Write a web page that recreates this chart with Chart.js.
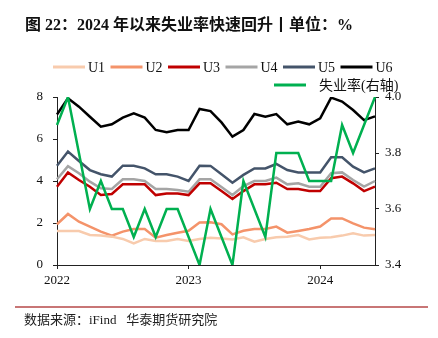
<!DOCTYPE html>
<html>
<head>
<meta charset="utf-8">
<script src="https://cdn.jsdelivr.net/npm/chart.js@4/dist/chart.umd.min.js"></script>
<style>
    html, body {
        margin: 0;
        padding: 0;
        background: #fff;
    }
    #wrap {
        position: relative;
        width: 438px;
        height: 338px;
        overflow: hidden;
    }
    #myChart {
        position: absolute;
        left: 0;
        top: 0;
    }
    .title {
        position: absolute;
        left: 25px;
        top: 11px;
        font: bold 16px "Liberation Serif", "Noto Sans CJK SC", serif;
        color: #111;
        white-space: nowrap;
    }
    .rule {
        position: absolute;
        left: 15px;
        top: 306px;
        width: 413px;
        height: 2px;
        background: #c87676;
    }
    .source {
        position: absolute;
        left: 24px;
        top: 309px;
        font: 13px "Liberation Serif", "Noto Sans CJK SC", serif;
        color: #222;
        white-space: pre;
    }
</style>
</head>
<body>
<div id="wrap">
    <canvas id="myChart" width="438" height="338"></canvas>
    <div class="title">图 22：2024 年以来失业率快速回升丨单位：%</div>
    <div class="rule"></div>
    <div class="source">数据来源：iFind   华泰期货研究院</div>
</div>
<script>
// monthly points, year label shown on each January
let labels = [];
for (let y = 2022; y <= 2024; y++) {
    for (let m = 1; m <= 12; m++) {
        if (labels.length < 30) labels.push(y + "-" + String(m).padStart(2, "0"));
    }
}

const u1 = [1.62, 1.62, 1.62, 1.43, 1.40, 1.35, 1.24, 1.03, 1.24, 1.14, 1.14, 1.24, 1.14, 1.24, 1.30,
            1.26, 1.22, 1.32, 1.11, 1.24, 1.32, 1.35, 1.43, 1.22, 1.30, 1.32, 1.40, 1.51, 1.40, 1.43];
const u2 = [1.94, 2.43, 2.06, 1.83, 1.59, 1.40, 1.59, 1.71, 1.71, 1.30, 1.43, 1.54, 1.63, 2.02, 2.04,
            1.94, 1.46, 1.63, 1.71, 1.71, 1.83, 1.54, 1.62, 1.71, 1.83, 2.22, 2.22, 1.98, 1.78, 1.70];
const u3 = [3.73, 4.41, 4.05, 3.73, 3.33, 3.38, 3.84, 3.84, 3.84, 3.33, 3.41, 3.41, 3.33, 3.89, 3.89,
            3.52, 3.14, 3.52, 3.84, 3.84, 3.92, 3.62, 3.62, 3.52, 3.52, 4.13, 4.21, 3.89, 3.52, 3.73];
const u4 = [4.08, 4.71, 4.37, 3.97, 3.65, 3.62, 4.08, 4.08, 4.00, 3.62, 3.62, 3.57, 3.49, 4.08, 4.08,
            3.71, 3.33, 3.76, 4.00, 4.00, 4.16, 3.84, 3.89, 3.73, 3.73, 4.37, 4.41, 4.05, 3.73, 4.00];
const u5 = [4.73, 5.40, 4.95, 4.52, 4.32, 4.21, 4.73, 4.73, 4.60, 4.32, 4.32, 4.21, 4.00, 4.73, 4.72,
            4.32, 3.92, 4.29, 4.60, 4.60, 4.81, 4.52, 4.41, 4.41, 4.41, 5.13, 5.13, 4.68, 4.41, 4.60];
const u6 = [7.17, 7.94, 7.54, 7.06, 6.59, 6.70, 7.02, 7.22, 7.02, 6.43, 6.32, 6.43, 6.43, 7.43, 7.33,
            6.79, 6.11, 6.43, 7.19, 7.06, 7.19, 6.70, 6.83, 6.70, 6.98, 7.97, 7.78, 7.38, 6.90, 7.08];
const unemp = [3.9, 4.0, 3.8, 3.6, 3.7, 3.6, 3.6, 3.5, 3.6, 3.5, 3.6, 3.6, 3.5, 3.4, 3.6,
               3.5, 3.4, 3.7, 3.6, 3.5, 3.8, 3.8, 3.8, 3.7, 3.7, 3.7, 3.9, 3.8, 3.9, 4.0];

const serif = "'Liberation Serif', 'Noto Sans CJK SC', serif";

const line = (label, values, color, axis, order) => ({
    label: label,
    data: values,
    borderColor: color,
    backgroundColor: color,
    borderWidth: 2.5,
    pointRadius: 0,
    tension: 0,
    yAxisID: axis,
    order: order
});

let data = {
    labels: labels,
    datasets: [
        line('U1', u1, '#f8cbad', 'y', 1),
        line('U2', u2, '#f4936a', 'y', 1),
        line('U3', u3, '#c00000', 'y', 1),
        line('U4', u4, '#a5a5a5', 'y', 1),
        line('U5', u5, '#44546a', 'y', 1),
        line('U6', u6, '#000000', 'y', 1),
        line('失业率(右轴)', unemp, '#00b050', 'y1', 0)
    ]
};

// legend: six U series on the first row, the right-axis series under it
const legendRows = [
    { x: 53, y: 67, step: 57.5, items: [0, 1, 2, 3, 4, 5] },
    { x: 274, y: 85, step: 0, items: [6] }
];

const legendPlugin = {
    id: 'legendRows',
    afterDraw(chart) {
        const ctx = chart.ctx;
        ctx.save();
        ctx.font = "14px " + serif;
        ctx.textBaseline = 'middle';
        legendRows.forEach(row => {
            row.items.forEach((idx, k) => {
                const ds = chart.data.datasets[idx];
                const x = row.x + k * row.step;
                ctx.strokeStyle = ds.borderColor;
                ctx.lineWidth = 3;
                ctx.beginPath();
                ctx.moveTo(x, row.y);
                ctx.lineTo(x + 32, row.y);
                ctx.stroke();
                ctx.fillStyle = '#111';
                ctx.fillText(ds.label, x + (idx == 6 ? 45 : 35), row.y + 1);
            });
        });
        ctx.restore();
    }
};

const axisColor = '#222';

const config = {
    type: 'line',
    data: data,
    plugins: [legendPlugin],
    options: {
        responsive: false,
        animation: false,
        layout: {
            padding: { top: 97, left: 0, right: 0, bottom: 0 }
        },
        plugins: {
            legend: { display: false },
            tooltip: { enabled: false }
        },
        scales: {
            x: {
                offset: false,
                border: { color: axisColor, width: 1 },
                grid: {
                    drawOnChartArea: false,
                    color: axisColor,
                    tickLength: 4
                },
                ticks: {
                    autoSkip: false,
                    maxRotation: 0,
                    padding: 4,
                    color: '#111',
                    font: { family: serif, size: 13 },
                    callback: function (value, index) {
                        let lab = this.getLabelForValue(value);
                        return lab.endsWith('-01') ? lab.slice(0, 4) : null;
                    }
                },
                afterFit: scale => { scale.height = 73; }
            },
            y: {
                position: 'left',
                min: 0,
                max: 8,
                border: { color: axisColor, width: 1 },
                grid: {
                    drawOnChartArea: false,
                    color: axisColor,
                    tickLength: 4
                },
                ticks: {
                    stepSize: 2,
                    padding: 10,
                    color: '#111',
                    font: { family: serif, size: 13 }
                },
                afterFit: scale => { scale.width = 57; }
            },
            y1: {
                position: 'right',
                min: 3.4,
                max: 4.0,
                border: { color: axisColor, width: 1 },
                grid: {
                    drawOnChartArea: false,
                    color: axisColor,
                    tickLength: 4
                },
                ticks: {
                    stepSize: 0.2,
                    padding: 6,
                    color: '#111',
                    font: { family: serif, size: 13 },
                    callback: v => v.toFixed(1)
                },
                afterFit: scale => { scale.width = 63; }
            }
        }
    }
};

var myChart = new Chart(
    document.getElementById('myChart'),
    config
);
</script>
</body>
</html>
